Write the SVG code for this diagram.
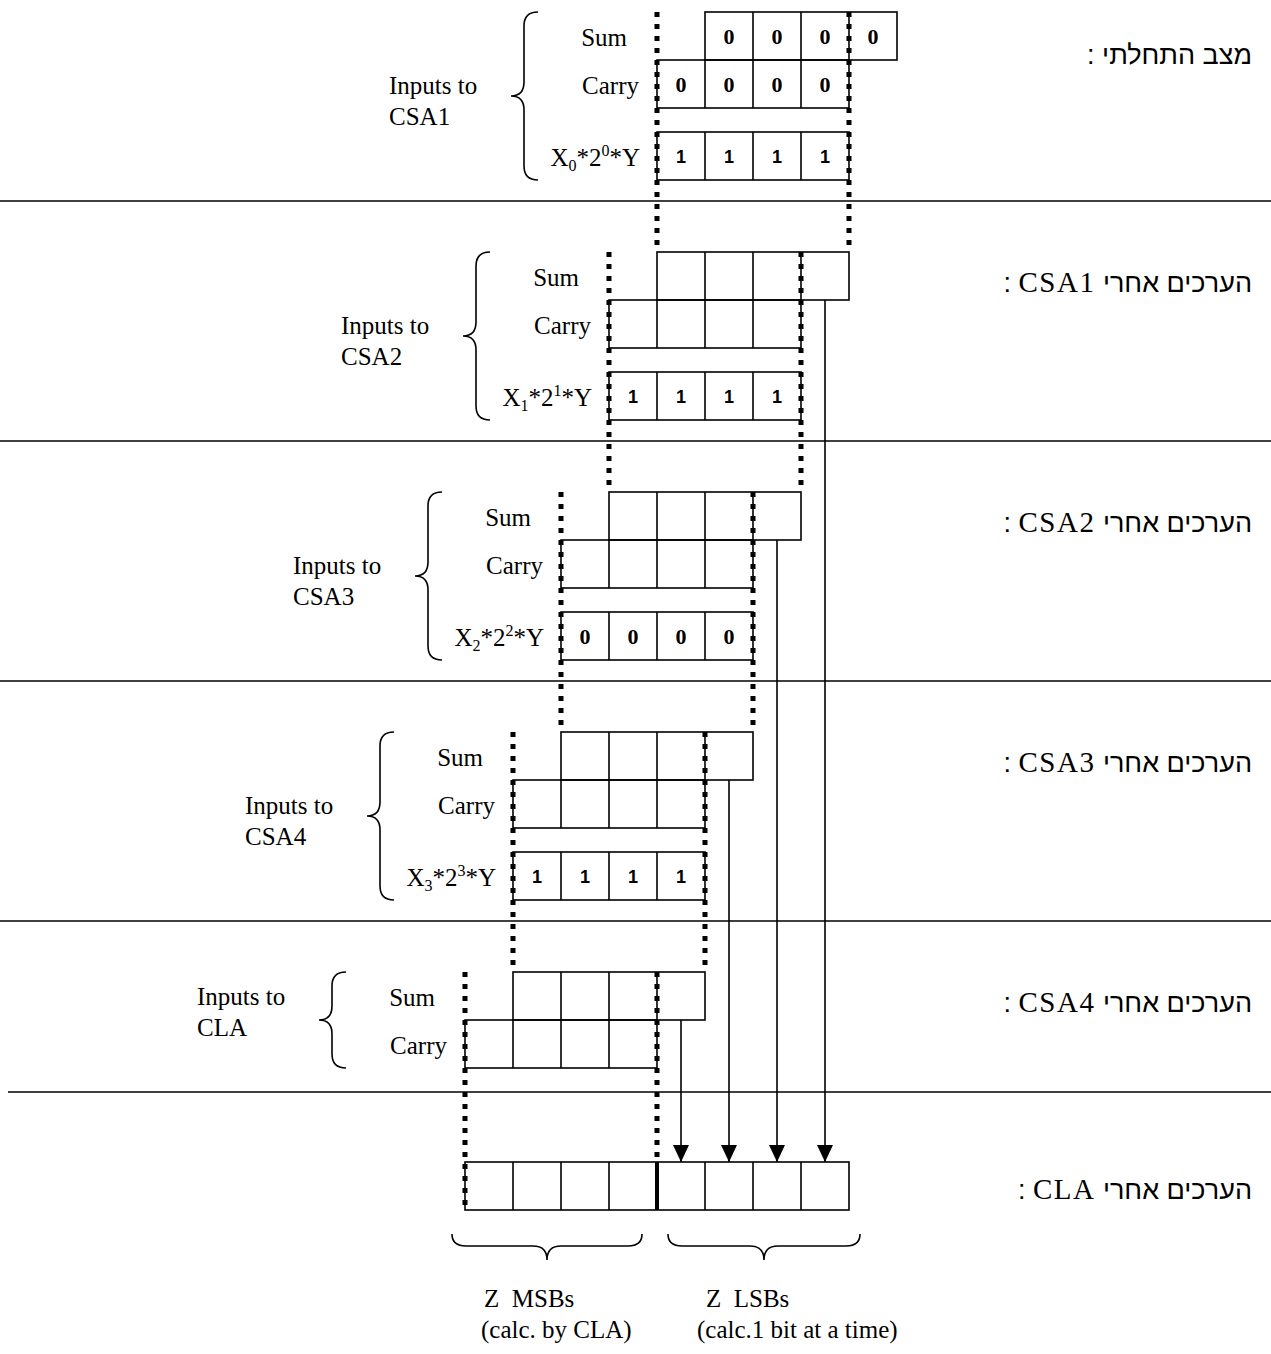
<svg xmlns="http://www.w3.org/2000/svg" width="1271" height="1354" viewBox="0 0 1271 1354">
<style>
.bg{fill:#fff}
.cell{fill:none;stroke:#000;stroke-width:1.6}
.sep{stroke:#000;stroke-width:1.6}
.dot{stroke:#000;stroke-width:5;stroke-dasharray:5 7;fill:none}
.thick{stroke:#000;stroke-width:4}
.arr{stroke:#000;stroke-width:1.6;fill:none}
.brace{fill:none;stroke:#000;stroke-width:1.6}
.lbl{font-family:"Liberation Serif","Times New Roman",serif;font-size:25px;fill:#000}
.lr{text-anchor:end}
.z{font-family:"Liberation Serif","Times New Roman",serif;font-size:22px;font-weight:bold;text-anchor:middle;fill:#000}
.o{font-family:"Liberation Sans",Arial,sans-serif;font-size:18px;font-weight:bold;text-anchor:middle;fill:#000}
.heb{font-family:"Liberation Sans","DejaVu Sans",Arial,sans-serif;font-size:27px;fill:#000}
.ser{font-family:"Liberation Serif","Times New Roman",serif;font-size:29px;letter-spacing:1.5px}
.pre{white-space:pre}
</style>
<defs>
<marker id="ah" markerUnits="userSpaceOnUse" markerWidth="18" markerHeight="16" refX="17" refY="8" orient="auto" viewBox="0 0 18 16">
<path d="M0,0 L17,8 L0,16 Z" fill="#000"/>
</marker>
</defs>
<rect class="bg" x="0" y="0" width="1271" height="1354"/>

<g id="separators">
<line class="sep" x1="0" y1="201" x2="1271" y2="201"/>
<line class="sep" x1="0" y1="441" x2="1271" y2="441"/>
<line class="sep" x1="0" y1="681" x2="1271" y2="681"/>
<line class="sep" x1="0" y1="921" x2="1271" y2="921"/>
<line class="sep" x1="8" y1="1092" x2="1271" y2="1092"/>
</g>

<!-- Section 0 -->
<g id="sec0-sum">
<rect class="cell" x="705" y="12" width="192" height="48"/>
<path class="cell" d="M753,12V60M801,12V60M849,12V60"/>
<text class="z" x="729" y="44">0</text><text class="z" x="777" y="44">0</text><text class="z" x="825" y="44">0</text><text class="z" x="873" y="44">0</text>
</g>
<g id="sec0-carry">
<rect class="cell" x="657" y="60" width="192" height="48"/>
<path class="cell" d="M705,60V108M753,60V108M801,60V108"/>
<text class="z" x="681" y="92">0</text><text class="z" x="729" y="92">0</text><text class="z" x="777" y="92">0</text><text class="z" x="825" y="92">0</text>
</g>
<g id="sec0-x">
<rect class="cell" x="657" y="132" width="192" height="48"/>
<path class="cell" d="M705,132V180M753,132V180M801,132V180"/>
<text class="o" x="681" y="163">1</text><text class="o" x="729" y="163">1</text><text class="o" x="777" y="163">1</text><text class="o" x="825" y="163">1</text>
</g>
<g id="sec0-labels">
<text class="lbl lr" x="627" y="46">Sum</text>
<text class="lbl lr" x="639" y="94">Carry</text>
<text class="lbl lr" x="640" y="166">X<tspan font-size="16" dy="5">0</tspan><tspan dy="-5">*2</tspan><tspan font-size="16" dy="-10">0</tspan><tspan dy="10">*Y</tspan></text>
<path class="brace" d="M538,12 Q524,12 524,26 L524,82 Q524,96 511,96 Q524,96 524,110 L524,166 Q524,180 538,180"/>
<text class="lbl" x="389" y="94">Inputs to</text>
<text class="lbl" x="389" y="125">CSA1</text>
<text class="heb" x="1252" y="64" direction="rtl">מצב התחלתי :</text>
</g>

<!-- Section 1 -->
<g id="sec1-sum">
<rect class="cell" x="657" y="252" width="192" height="48"/>
<path class="cell" d="M705,252V300M753,252V300M801,252V300"/>
</g>
<g id="sec1-carry">
<rect class="cell" x="609" y="300" width="192" height="48"/>
<path class="cell" d="M657,300V348M705,300V348M753,300V348"/>
</g>
<g id="sec1-x">
<rect class="cell" x="609" y="372" width="192" height="48"/>
<path class="cell" d="M657,372V420M705,372V420M753,372V420"/>
<text class="o" x="633" y="403">1</text><text class="o" x="681" y="403">1</text><text class="o" x="729" y="403">1</text><text class="o" x="777" y="403">1</text>
</g>
<g id="sec1-labels">
<text class="lbl lr" x="579" y="286">Sum</text>
<text class="lbl lr" x="591" y="334">Carry</text>
<text class="lbl lr" x="592" y="406">X<tspan font-size="16" dy="5">1</tspan><tspan dy="-5">*2</tspan><tspan font-size="16" dy="-10">1</tspan><tspan dy="10">*Y</tspan></text>
<path class="brace" d="M490,252 Q476,252 476,266 L476,322 Q476,336 463,336 Q476,336 476,350 L476,406 Q476,420 490,420"/>
<text class="lbl" x="341" y="334">Inputs to</text>
<text class="lbl" x="341" y="365">CSA2</text>
<text class="heb" x="1252" y="292" direction="rtl">הערכים אחרי <tspan class="ser">CSA1</tspan> :</text>
</g>

<!-- Section 2 -->
<g id="sec2-sum">
<rect class="cell" x="609" y="492" width="192" height="48"/>
<path class="cell" d="M657,492V540M705,492V540M753,492V540"/>
</g>
<g id="sec2-carry">
<rect class="cell" x="561" y="540" width="192" height="48"/>
<path class="cell" d="M609,540V588M657,540V588M705,540V588"/>
</g>
<g id="sec2-x">
<rect class="cell" x="561" y="612" width="192" height="48"/>
<path class="cell" d="M609,612V660M657,612V660M705,612V660"/>
<text class="z" x="585" y="644">0</text><text class="z" x="633" y="644">0</text><text class="z" x="681" y="644">0</text><text class="z" x="729" y="644">0</text>
</g>
<g id="sec2-labels">
<text class="lbl lr" x="531" y="526">Sum</text>
<text class="lbl lr" x="543" y="574">Carry</text>
<text class="lbl lr" x="544" y="646">X<tspan font-size="16" dy="5">2</tspan><tspan dy="-5">*2</tspan><tspan font-size="16" dy="-10">2</tspan><tspan dy="10">*Y</tspan></text>
<path class="brace" d="M442,492 Q428,492 428,506 L428,562 Q428,576 415,576 Q428,576 428,590 L428,646 Q428,660 442,660"/>
<text class="lbl" x="293" y="574">Inputs to</text>
<text class="lbl" x="293" y="605">CSA3</text>
<text class="heb" x="1252" y="532" direction="rtl">הערכים אחרי <tspan class="ser">CSA2</tspan> :</text>
</g>

<!-- Section 3 -->
<g id="sec3-sum">
<rect class="cell" x="561" y="732" width="192" height="48"/>
<path class="cell" d="M609,732V780M657,732V780M705,732V780"/>
</g>
<g id="sec3-carry">
<rect class="cell" x="513" y="780" width="192" height="48"/>
<path class="cell" d="M561,780V828M609,780V828M657,780V828"/>
</g>
<g id="sec3-x">
<rect class="cell" x="513" y="852" width="192" height="48"/>
<path class="cell" d="M561,852V900M609,852V900M657,852V900"/>
<text class="o" x="537" y="883">1</text><text class="o" x="585" y="883">1</text><text class="o" x="633" y="883">1</text><text class="o" x="681" y="883">1</text>
</g>
<g id="sec3-labels">
<text class="lbl lr" x="483" y="766">Sum</text>
<text class="lbl lr" x="495" y="814">Carry</text>
<text class="lbl lr" x="496" y="886">X<tspan font-size="16" dy="5">3</tspan><tspan dy="-5">*2</tspan><tspan font-size="16" dy="-10">3</tspan><tspan dy="10">*Y</tspan></text>
<path class="brace" d="M394,732 Q380,732 380,746 L380,802 Q380,816 367,816 Q380,816 380,830 L380,886 Q380,900 394,900"/>
<text class="lbl" x="245" y="814">Inputs to</text>
<text class="lbl" x="245" y="845">CSA4</text>
<text class="heb" x="1252" y="772" direction="rtl">הערכים אחרי <tspan class="ser">CSA3</tspan> :</text>
</g>

<!-- Section 4 -->
<g id="sec4-sum">
<rect class="cell" x="513" y="972" width="192" height="48"/>
<path class="cell" d="M561,972V1020M609,972V1020M657,972V1020"/>
</g>
<g id="sec4-carry">
<rect class="cell" x="465" y="1020" width="192" height="48"/>
<path class="cell" d="M513,1020V1068M561,1020V1068M609,1020V1068"/>
</g>
<g id="sec4-labels">
<text class="lbl lr" x="435" y="1006">Sum</text>
<text class="lbl lr" x="447" y="1054">Carry</text>
<path class="brace" d="M346,972 Q332,972 332,986 L332,1006 Q332,1020 319,1020 Q332,1020 332,1034 L332,1054 Q332,1068 346,1068"/>
<text class="lbl" x="197" y="1005">Inputs to</text>
<text class="lbl" x="197" y="1036">CLA</text>
<text class="heb" x="1252" y="1012" direction="rtl">הערכים אחרי <tspan class="ser">CSA4</tspan> :</text>
</g>

<!-- CLA result -->
<g id="cla-result">
<rect class="cell" x="465" y="1162" width="384" height="48"/>
<path class="cell" d="M513,1162V1210M561,1162V1210M609,1162V1210M705,1162V1210M753,1162V1210M801,1162V1210"/>
<line class="thick" x1="657" y1="1162" x2="657" y2="1210"/>
<text class="heb" x="1252" y="1199" direction="rtl">הערכים אחרי <tspan class="ser">CLA</tspan> :</text>
</g>

<g id="bottom-labels">
<path class="brace" d="M452,1234 Q452,1246 466,1246 L533,1246 Q547,1246 547,1260 Q547,1246 561,1246 L628,1246 Q642,1246 642,1234"/>
<path class="brace" d="M668,1234 Q668,1246 682,1246 L750,1246 Q764,1246 764,1260 Q764,1246 778,1246 L846,1246 Q860,1246 860,1234"/>
<text class="lbl pre" x="484" y="1307">Z  MSBs</text>
<text class="lbl" x="481" y="1338">(calc. by CLA)</text>
<text class="lbl pre" x="706" y="1307">Z  LSBs</text>
<text class="lbl" x="697" y="1338">(calc.1 bit at a time)</text>
</g>

<g id="connectors">
<line class="dot" x1="657" y1="12" x2="657" y2="252"/>
<line class="dot" x1="849" y1="12" x2="849" y2="252"/>
<line class="dot" x1="609" y1="252" x2="609" y2="492"/>
<line class="dot" x1="801" y1="252" x2="801" y2="492"/>
<line class="dot" x1="561" y1="492" x2="561" y2="732"/>
<line class="dot" x1="753" y1="492" x2="753" y2="732"/>
<line class="dot" x1="513" y1="732" x2="513" y2="972"/>
<line class="dot" x1="705" y1="732" x2="705" y2="972"/>
<line class="dot" x1="465" y1="972" x2="465" y2="1210"/>
<line class="dot" x1="657" y1="972" x2="657" y2="1162"/>
<line class="arr" x1="825" y1="300" x2="825" y2="1162" marker-end="url(#ah)"/>
<line class="arr" x1="777" y1="540" x2="777" y2="1162" marker-end="url(#ah)"/>
<line class="arr" x1="729" y1="780" x2="729" y2="1162" marker-end="url(#ah)"/>
<line class="arr" x1="681" y1="1020" x2="681" y2="1162" marker-end="url(#ah)"/>
</g>
</svg>
